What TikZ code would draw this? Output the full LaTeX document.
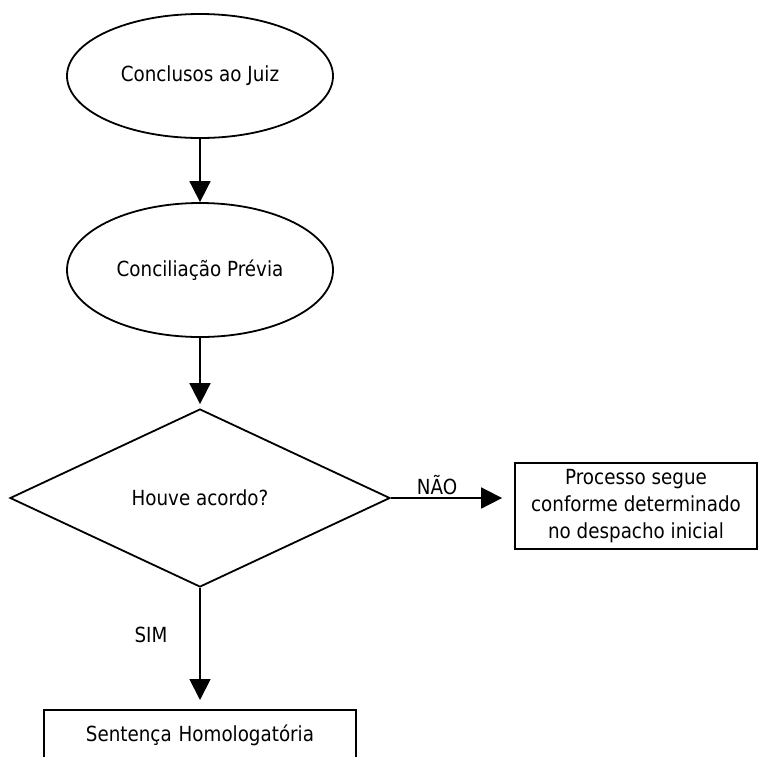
\documentclass[tikz,border=0pt]{standalone}
\usepackage{fontspec}
\setmainfont[FakeStretch=0.88]{DejaVu Sans}
\usetikzlibrary{shapes.geometric,arrows.meta}
\begin{document}
\begin{tikzpicture}[x=1pt,y=-1pt,
  every node/.style={font=\fontsize{20.8}{27}\selectfont, inner sep=0pt},
  oval/.style={draw, ellipse, line width=1.8pt, minimum width=266pt},
  decision/.style={draw, diamond, line width=1.8pt, minimum width=380pt, minimum height=178pt, aspect=2.13},
  box/.style={draw, rectangle, line width=1.8pt, align=center},
  lbl/.style={},
  flow/.style={line width=1.8pt, -{Triangle[length=21pt,width=21pt]}}
]
\useasboundingbox (0,0) rectangle (768,756);
\clip (0,0) rectangle (768,756);

% process steps
\node[oval, minimum height=124pt] (e1) at (200,76) {Conclusos ao Juiz};
\node[oval, minimum height=134pt] (e2) at (200,270) {Conciliação Prévia};
\node[decision] (d) at (200,498) {Houve acordo?};
\node[box, minimum width=242pt, minimum height=86pt] (p) at (636,506)
  {Processo segue\\conforme determinado\\no despacho inicial};
\node[box, anchor=north, minimum width=312pt, text height=32pt, text depth=40pt,
  text width=312pt] (s) at (200,709) {Sentença Homologatória};

% connectors (canvas yshift is upward)
\draw[flow] (e1.south) -- (e2.north);
\draw[flow] (e2.south) -- ([yshift=4pt]d.north);
\draw[flow] (d.east) -- ([xshift=-12pt]p.west |- d.east);
\draw[flow] (d.south) -- ([yshift=9pt]s.north);

% branch labels
\node[lbl] (nao) at (437,485) {NÃO};
\node[lbl] (sim) at (151,635) {SIM};
\end{tikzpicture}
\end{document}
